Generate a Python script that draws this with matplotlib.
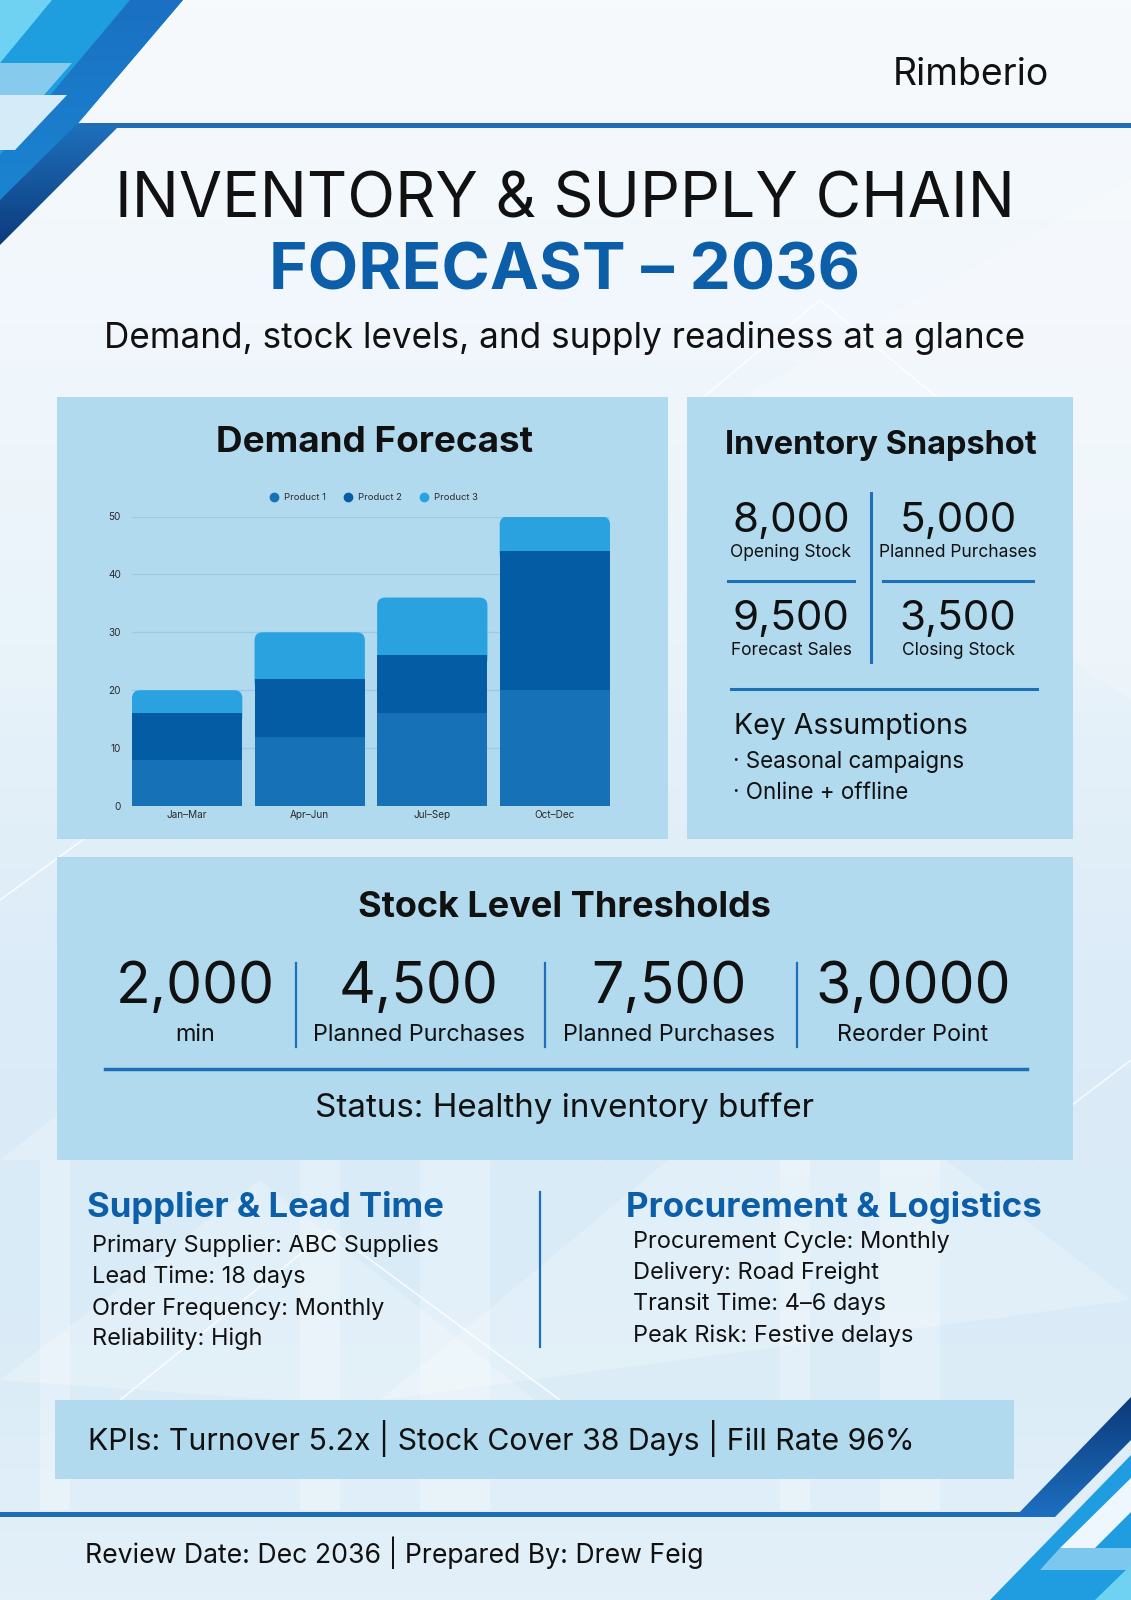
import matplotlib
matplotlib.use("Agg")
import matplotlib.pyplot as plt
from matplotlib.patches import Polygon, Rectangle, FancyBboxPatch
from matplotlib.colors import LinearSegmentedColormap
from matplotlib.lines import Line2D
import numpy as np

W, H = 1131, 1600

# chart data
quarters = ["Jan–Mar", "Apr–Jun", "Jul–Sep", "Oct–Dec"]
product1 = [8, 12, 16, 20]
product2 = [8, 10, 10, 24]
product3 = [4, 8, 10, 6]
product_names = ["Product 1", "Product 2", "Product 3"]
product_colors = ["#1671b7", "#035ca4", "#29a2df"]
y_ticks = [0, 10, 20, 30, 40, 50]

# text blocks
snapshot_values = ["8,000", "5,000", "9,500", "3,500"]
snapshot_labels = ["Opening Stock", "Planned Purchases", "Forecast Sales", "Closing Stock"]
assumptions = ["Seasonal campaigns", "Online + offline"]
threshold_values = ["2,000", "4,500", "7,500", "3,0000"]
threshold_labels = ["min", "Planned Purchases", "Planned Purchases", "Reorder Point"]
supplier_lines = ["Primary Supplier: ABC Supplies", "Lead Time: 18 days",
                  "Order Frequency: Monthly", "Reliability: High"]
logistics_lines = ["Procurement Cycle: Monthly", "Delivery: Road Freight",
                   "Transit Time: 4–6 days", "Peak Risk: Festive delays"]
kpi_text = "KPIs: Turnover 5.2x | Stock Cover 38 Days | Fill Rate 96%"
footer_text = "Review Date: Dec 2036 | Prepared By: Drew Feig"

plt.rcParams['font.family'] = ['Inter', 'DejaVu Sans']

INK = "#111111"
ACCENT = "#0b5ea7"
PANEL = "#b1daef"
LINE = "#1d6fb8"

fig = plt.figure(figsize=(W / 100, H / 100), dpi=100)
bg = fig.add_axes([0, 0, 1, 1])
grad = np.linspace(0, 1, 256).reshape(-1, 1)
bg.imshow(grad, extent=[0, W, H, 0], aspect='auto', zorder=0,
          cmap=LinearSegmentedColormap.from_list(
              'bgc', ['#f7fafd', '#f1f7fc', '#e9f3fa', '#dcecf8', '#d9ebf7', '#e3f0f9']))
bg.set_xlim(0, W)
bg.set_ylim(H, 0)
bg.axis('off')
r = fig.canvas.get_renderer()


def poly(pts, color, z=1, alpha=1.0):
    bg.add_patch(Polygon(pts, closed=True, fc=color, ec='none', zorder=z, alpha=alpha))


def grad_poly(pts, c1, c2, z=1):
    p = Polygon(pts, closed=True, fc='none', ec='none', zorder=z)
    bg.add_patch(p)
    xs = [q[0] for q in pts]
    ys = [q[1] for q in pts]
    g = np.linspace(0, 1, 64).reshape(-1, 1)
    im = bg.imshow(g, extent=[min(xs), max(xs), max(ys), min(ys)], aspect='auto', zorder=z,
                   cmap=LinearSegmentedColormap.from_list('', [c1, c2]))
    im.set_clip_path(p)


def put(x, y, s, size=12, width=None, ha='left', **kw):
    kw.setdefault('color', INK)
    t = bg.text(x, y, s, fontsize=size, ha=ha, va='baseline', zorder=6, **kw)
    if width:
        w = t.get_window_extent(renderer=r).width
        t.set_fontsize(size * width / w)
    return t


# faint background shapes
for pts in [[(0, 1160), (330, 900), (560, 1160)], [(380, 1400), (800, 1050), (1131, 1300)],
            [(700, 420), (1131, 180), (1131, 700)], [(0, 1380), (260, 1180), (560, 1420)]]:
    poly(pts, 'white', z=0.5, alpha=0.22)
for x0, w in [(300, 40), (420, 70), (780, 30), (880, 60), (40, 30)]:
    bg.add_patch(Rectangle((x0, 1160), w, 350, fc='white', ec='none', alpha=0.25, zorder=0.5))
for seg in [[(600, 1160), (820, 1010), (1040, 1160)], [(0, 900), (110, 820)],
            [(1000, 1160), (1131, 1060)], [(700, 400), (820, 300), (940, 400)],
            [(120, 1400), (330, 1230), (560, 1400)]]:
    xs, ys = zip(*seg)
    bg.plot(xs, ys, color='white', lw=1.2, alpha=0.8, zorder=0.6)

# top-left decoration
poly([(0, 0), (183, 0), (0, 215)], '#1e9ddf')
poly([(0, 0), (52, 0), (0, 63)], '#6fd2f2', z=1.1)
grad_poly([(130, 0), (183, 0), (0, 215), (0, 155)], '#1b70c2', '#1a86d2', z=1.05)
poly([(0, 63), (72, 63), (44, 95), (0, 95)], '#86caee', z=1.2)
poly([(0, 95), (67, 95), (15, 150), (0, 150)], '#d6ebf8', z=1.2)
grad_poly([(78, 123), (117, 128), (0, 245), (0, 200)], '#1f70bd', '#0c3b7c', z=1.3)
bg.add_patch(Rectangle((80, 123), W - 80, 5, fc='#1f6db5', ec='none', zorder=1.3))

# bottom-right decoration
bg.add_patch(Rectangle((0, 1512), 1030, 5, fc='#1f6db5', ec='none', zorder=1.3))
grad_poly([(1015, 1517), (1055, 1517), (1131, 1440), (1131, 1397)], '#0c3a7a', '#1d6fc0', z=1.3)
poly([(990, 1600), (1131, 1600), (1131, 1455)], '#1f9de0')
poly([(1060, 1548), (1095, 1548), (1131, 1512), (1131, 1478)], '#eef7fd', z=1.1)
poly([(1040, 1570), (1131, 1570), (1131, 1548), (1060, 1548)], '#7cc7ee', z=1.1)
poly([(1095, 1600), (1131, 1600), (1131, 1565)], '#6fd2f2', z=1.2)

# header texts
put(1049, 85, "Rimberio", size=20, width=156, ha='right')
put(565, 218, "INVENTORY & SUPPLY CHAIN", size=50, width=901, ha='center')
put(565, 290, "FORECAST – 2036", size=50, width=591, ha='center', fontweight='bold', color=ACCENT)
put(565, 348, "Demand, stock levels, and supply readiness at a glance", size=20, width=919, ha='center')

# panels
for x0, y0, x1, y1 in [(57, 397, 668, 839), (687, 397, 1073, 839),
                       (57, 857, 1073, 1160), (55, 1400, 1014, 1479)]:
    bg.add_patch(Rectangle((x0, y0), x1 - x0, y1 - y0, fc=PANEL, ec='none', zorder=2))

# demand forecast chart
put(375, 452, "Demand Forecast", size=24, width=318, ha='center', fontweight='bold')
ax = fig.add_axes([132 / W, 1 - 806 / H, 478 / W, 289.5 / H])
ax.set_facecolor('none')
x = np.arange(len(quarters))
p1 = np.array(product1)
p2 = np.array(product2)
p3 = np.array(product3)
ax.bar(x, p1, width=0.9, color=product_colors[0], zorder=3)
ax.bar(x, p2, bottom=p1, width=0.9, color=product_colors[1], zorder=3)
rx = 8 / 122.5
aspect = (1 / 5.79) / (1 / 122.5)
for xi, b, v in zip(x, p1 + p2, p3):
    ax.add_patch(FancyBboxPatch((xi - 0.45, b - 2), 0.9, v + 2,
                                boxstyle=f"round,pad=0,rounding_size={rx}",
                                mutation_aspect=aspect, fc=product_colors[2], ec='none', zorder=2))
ax.set_xlim(-0.45, len(quarters) - 0.55)
ax.set_ylim(0, 50)
ax.set_yticks(y_ticks)
ax.set_xticks(x, quarters)
ax.grid(axis='y', color='#9dc9e3', lw=0.9, zorder=1)
for s in ax.spines.values():
    s.set_visible(False)
ax.tick_params(length=0, labelsize=7.2, labelcolor='#2b2b2b')
ax.tick_params(axis='y', pad=8)
ax.tick_params(axis='x', pad=3)
handles = [Line2D([], [], marker='o', ls='', color=c, markersize=6) for c in product_colors]
ax.legend(handles, product_names, loc='center', bbox_to_anchor=(0.5, 1.064), ncol=3, frameon=False,
          fontsize=6.8, handletextpad=0.1, columnspacing=1.3, labelcolor='#2b2b2b')

# inventory snapshot
put(881, 454, "Inventory Snapshot", size=22, width=312, ha='center', fontweight='bold')
cols = [791, 958, 791, 958]
num_base = [532, 532, 630, 630]
lab_base = [557, 557, 655, 655]
t = put(cols[0], num_base[0], snapshot_values[0], size=30, width=118, ha='center')
nsize = t.get_fontsize()
t = put(cols[1], lab_base[1], snapshot_labels[1], size=11, width=157, ha='center')
lsize = t.get_fontsize()
for i in range(4):
    if i > 0:
        put(cols[i], num_base[i], snapshot_values[i], size=nsize, ha='center')
    if i != 1:
        put(cols[i], lab_base[i], snapshot_labels[i], size=lsize, ha='center')
bg.plot([871, 871], [493, 662], color=LINE, lw=2.2, zorder=5)
bg.plot([728, 854], [581, 581], color=LINE, lw=2.2, zorder=5)
bg.plot([883, 1033], [581, 581], color=LINE, lw=2.2, zorder=5)
bg.plot([731, 1037], [689, 689], color=LINE, lw=2.2, zorder=5)
put(734, 734, "Key Assumptions", size=17, width=234)
t = put(733, 768, "· " + assumptions[0], size=14, width=232)
put(733, 799, "· " + assumptions[1], size=t.get_fontsize())

# stock level thresholds
put(565, 917, "Stock Level Thresholds", size=22, width=414, ha='center', fontweight='bold')
tcols = [195, 419, 669, 913]
t = put(tcols[0], 1003, threshold_values[0], size=40, width=159, ha='center')
tn = t.get_fontsize()
t = put(tcols[1], 1041, threshold_labels[1], size=15, width=213, ha='center')
tl = t.get_fontsize()
for i in range(4):
    if i > 0:
        put(tcols[i], 1003, threshold_values[i], size=tn, ha='center')
    if i != 1:
        put(tcols[i], 1041, threshold_labels[i], size=tl, ha='center')
for xd in [296, 545, 797]:
    bg.plot([xd, xd], [963, 1047], color=LINE, lw=1.6, zorder=5)
bg.plot([105, 1027], [1069, 1069], color=LINE, lw=2.5, zorder=5)
put(565, 1117, "Status: Healthy inventory buffer", size=19, width=499, ha='center')

# supplier / logistics
put(87, 1217, "Supplier & Lead Time", size=20, width=358, fontweight='bold', color=ACCENT)
put(626, 1217, "Procurement & Logistics", size=20, width=417, fontweight='bold', color=ACCENT)
t = put(92, 1252, supplier_lines[0], size=15, width=348)
bsize = t.get_fontsize()
for line, yb in zip(supplier_lines[1:], [1283, 1315, 1345]):
    put(92, yb, line, size=bsize)
for line, yb in zip(logistics_lines, [1248, 1279, 1310, 1342]):
    put(633, yb, line, size=bsize)
bg.plot([540, 540], [1192, 1347], color=LINE, lw=1.6, zorder=5)

# KPI bar and footer
put(88, 1450, kpi_text, size=19, width=826)
put(85, 1563, footer_text, size=17, width=619)

fig.savefig("out.png", dpi=100)
